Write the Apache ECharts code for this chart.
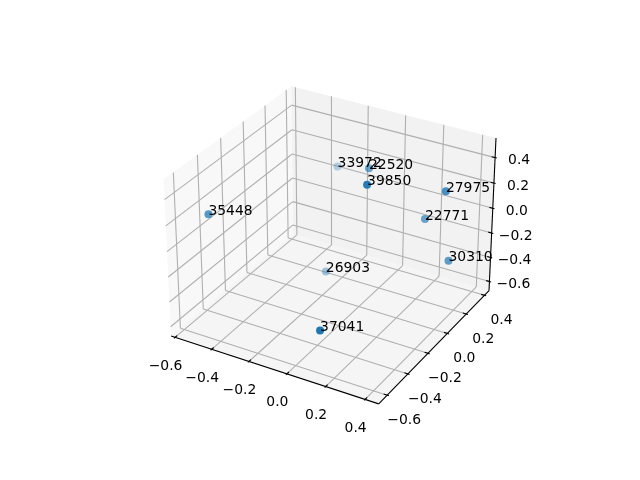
<!DOCTYPE html>
<html>
<head>
<meta charset="utf-8">
<title>3D scatter</title>
<script src="https://cdn.jsdelivr.net/npm/echarts@6/dist/echarts.min.js"></script>
<style>
  html, body { margin: 0; background: #fff; }
  #chart { width: 640px; height: 480px; }
</style>
</head>
<body>
<div id="chart"></div>
<script>
const pointLabels = ['37041', '26903', '35448', '33972', '22520', '39850', '27975', '22771', '30310'];
const xValues = [0.140, -0.191, -0.548, -0.316, -0.018, 0.135, 0.379, 0.263, 0.425];
const yValues = [-0.622, 0.020, -0.439, 0.360, 0.122, -0.183, 0.121, 0.150, 0.076];
const zValues = [-0.311, -0.489, 0.150, 0.078, 0.343, 0.483, 0.326, 0.040, -0.167];
const tickValues = [-0.6, -0.4, -0.2, 0, 0.2, 0.4];
const xLim = [-0.6, 0.446];
const yLim = [-0.657, 0.428];
const zLim = [-0.652, 0.527];

const FONT = '"DejaVu Sans"';
const GRID_COLOR = '#b0b0b0';
const DOT_COLOR = '#1f77b4';
const lims = [xLim, yLim, zLim];

// same camera as a default mplot3d axes: elev 30, azim -60, dist 10
const elev = 30 * Math.PI / 180;
const azim = -60 * Math.PI / 180;
const dist = 10;
const aspectNorm = Math.hypot(4, 4, 3);
const boxSize = [4, 4, 3].map(d => d * 1.8294640721620434 / aspectNorm);
const dot = (a, b) => a[0] * b[0] + a[1] * b[1] + a[2] * b[2];
const w = [Math.cos(elev) * Math.cos(azim), Math.cos(elev) * Math.sin(azim), Math.sin(elev)];
const wLen = Math.hypot(w[0], w[1]);
const u = [-w[1] / wLen, w[0] / wLen, 0];
const v = [w[1] * u[2] - w[2] * u[1], w[2] * u[0] - w[0] * u[2], w[0] * u[1] - w[1] * u[0]];
const eye = boxSize.map((d, i) => d / 2 + dist * w[i]);

function toBox(pt) {
  return pt.map((d, i) => (d - lims[i][0]) / (lims[i][1] - lims[i][0]) * boxSize[i] - eye[i]);
}
function project(pt) {
  const q = toBox(pt);
  const t = -dot(w, q);
  return [dot(u, q) / t, dot(v, q) / t];
}

// panes stick out of the limits by 1/48 of the range
const pad = lims.map(l => (l[1] - l[0]) / 48);
const lo = lims.map((l, i) => l[0] - pad[i]);
const hi = lims.map((l, i) => l[1] + pad[i]);
const delta = lims.map(l => (l[1] - l[0]) / 12);

function renderBox(params, api) {
  const c = pt => api.coord(project(pt));
  const children = [];
  const pane = (pts, fill) => children.push({
    type: 'polygon',
    shape: { points: pts.map(c) },
    style: { fill: fill, stroke: null }
  });
  const line = (a, b, color) => children.push({
    type: 'line',
    shape: { x1: c(a)[0], y1: c(a)[1], x2: c(b)[0], y2: c(b)[1] },
    style: { stroke: color, lineWidth: 1.1 }
  });
  const label = (pt, off, val) => {
    const at = c(pt);
    children.push({
      type: 'text',
      x: at[0] + off[0],
      y: at[1] + off[1],
      style: {
        text: val.toFixed(1).replace('-', '\u2212'),
        font: '13.9px ' + FONT,
        fill: '#000',
        align: 'center',
        verticalAlign: 'middle'
      }
    });
  };

  pane([[lo[0], lo[1], lo[2]], [lo[0], hi[1], lo[2]], [lo[0], hi[1], hi[2]], [lo[0], lo[1], hi[2]]], 'rgba(242,242,242,0.5)');
  pane([[lo[0], hi[1], lo[2]], [hi[0], hi[1], lo[2]], [hi[0], hi[1], hi[2]], [lo[0], hi[1], hi[2]]], 'rgba(230,230,230,0.5)');
  pane([[lo[0], lo[1], lo[2]], [hi[0], lo[1], lo[2]], [hi[0], hi[1], lo[2]], [lo[0], hi[1], lo[2]]], 'rgba(236,236,236,0.5)');

  tickValues.forEach(t => {
    line([t, lo[1], lo[2]], [t, hi[1], lo[2]], GRID_COLOR);
    line([t, hi[1], lo[2]], [t, hi[1], hi[2]], GRID_COLOR);
    line([lo[0], t, hi[2]], [lo[0], t, lo[2]], GRID_COLOR);
    line([lo[0], t, lo[2]], [hi[0], t, lo[2]], GRID_COLOR);
    line([hi[0], hi[1], t], [lo[0], hi[1], t], GRID_COLOR);
    line([lo[0], hi[1], t], [lo[0], lo[1], t], GRID_COLOR);
  });

  line([lo[0], lo[1], lo[2]], [hi[0], lo[1], lo[2]], '#000');
  line([hi[0], lo[1], lo[2]], [hi[0], hi[1], lo[2]], '#000');
  line([hi[0], hi[1], lo[2]], [hi[0], hi[1], hi[2]], '#000');

  tickValues.forEach(t => {
    line([t, lo[1] - 0.1 * delta[1], lo[2]], [t, lo[1] + 0.2 * delta[1], lo[2]], '#000');
    line([hi[0] + 0.1 * delta[0], t, lo[2]], [hi[0] - 0.2 * delta[0], t, lo[2]], '#000');
    line([hi[0] + 0.1 * delta[0], hi[1], t], [hi[0] - 0.2 * delta[0], hi[1], t], '#000');
    label([t, lo[1], lo[2]], [-9.5, 29], t);
    label([hi[0], t, lo[2]], [17, 25], t);
    label([hi[0], hi[1], t], [24, 3], t);
  });
  return { type: 'group', children: children };
}

function renderLabel(params, api) {
  const at = api.coord([api.value(0), api.value(1)]);
  return {
    type: 'text',
    x: at[0],
    y: at[1] + 4,
    style: {
      text: pointLabels[params.dataIndex],
      font: '13.9px ' + FONT,
      fill: '#000',
      align: 'left',
      verticalAlign: 'bottom'
    }
  };
}

// nearer dots are more opaque, from 0.3 to 1, as depthshade does
const depths = pointLabels.map((_, i) => dot(w, toBox([xValues[i], yValues[i], zValues[i]])));
const dMin = Math.min(...depths);
const dMax = Math.max(...depths);
const projected = pointLabels.map((_, i) => project([xValues[i], yValues[i], zValues[i]]));
const dots = projected.map((pt, i) => ({
  value: pt,
  itemStyle: { opacity: 0.3 + 0.7 * (depths[i] - dMin) / (dMax - dMin) }
}));

const chart = echarts.init(document.getElementById('chart'));
chart.setOption({
  animation: false,
  grid: { left: 143.2, top: 57.6, width: 369.6, height: 369.6 },
  xAxis: { type: 'value', min: -0.095, max: 0.09, show: false },
  yAxis: { type: 'value', min: -0.095, max: 0.09, show: false },
  series: [{
    type: 'custom',
    renderItem: renderBox,
    data: [[0, 0]],
    silent: true,
    clip: false,
    z: 1
  }, {
    type: 'scatter',
    data: dots,
    symbolSize: 8,
    itemStyle: { color: DOT_COLOR },
    clip: false,
    z: 2
  }, {
    type: 'custom',
    renderItem: renderLabel,
    data: projected,
    silent: true,
    clip: false,
    z: 3
  }]
});
</script>
</body>
</html>
